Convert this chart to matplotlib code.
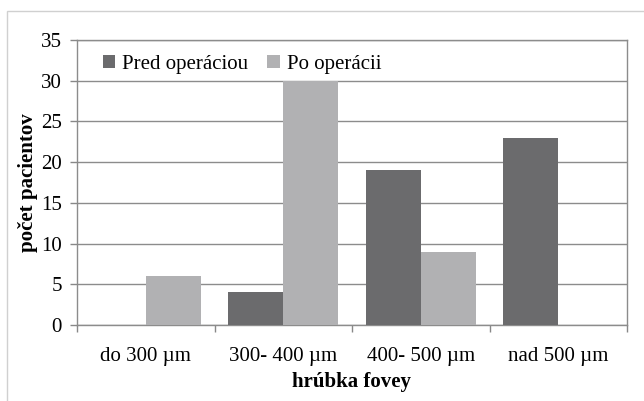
import numpy as np
import matplotlib
matplotlib.use("Agg")
import matplotlib.pyplot as plt
from matplotlib.patches import Rectangle

# ── data ──────────────────────────────────────────────
categories = ["do 300 µm", "300- 400 µm", "400- 500 µm", "nad 500 µm"]
pred = [0, 4, 19, 23]
po = [6, 30, 9, 0]

plt.rcParams["font.family"] = ["Liberation Serif", "DejaVu Serif"]
FS = 15

fig = plt.figure(figsize=(6.44, 4.01), dpi=100)
ax = fig.add_axes([77 / 644, 76 / 401, 550 / 644, 285 / 401])

# outer chart frame
fig.patches.append(Rectangle((7 / 644, -0.1), 1.2, (401 - 11) / 401 + 0.1,
                             transform=fig.transFigure, fill=False,
                             edgecolor="#d0d0d0", linewidth=1.0))

x = np.arange(len(categories))
w = 0.4
ax.bar(x - w / 2, pred, w, color="#6b6b6d", label="Pred operáciou", zorder=3)
ax.bar(x + w / 2, po, w, color="#b1b1b3", label="Po operácii", zorder=3)

ax.set_xlim(-0.5, 3.5)
ax.set_ylim(0, 35)
ax.set_yticks(range(0, 36, 5))
ax.set_xticks(x)
ax.set_xticklabels(categories, fontsize=FS)
ax.set_xticks(np.arange(-0.5, 4.0, 1.0), minor=True)
ax.tick_params(axis="x", which="major", length=0, pad=16)
ax.tick_params(axis="x", which="minor", length=5, color="#888888", width=1)
ax.tick_params(axis="y", length=5, color="#888888", width=1, labelsize=FS, pad=6)
ax.grid(axis="y", color="#8c8c8c", linewidth=1, zorder=0)

for s in ax.spines.values():
    s.set_color("#8c8c8c")
    s.set_linewidth(1)

ax.set_xlabel("hrúbka fovey", fontsize=FS, fontweight="bold", labelpad=4)
ax.set_ylabel("počet pacientov", fontsize=FS, fontweight="bold", labelpad=2)

ax.legend(loc="upper left", bbox_to_anchor=(0.02, 1.0), ncol=2, frameon=False,
          fontsize=FS, handlelength=0.6, handleheight=0.6, handletextpad=0.35,
          columnspacing=0.9, borderaxespad=0.3)

fig.savefig("out.png", dpi=100)
